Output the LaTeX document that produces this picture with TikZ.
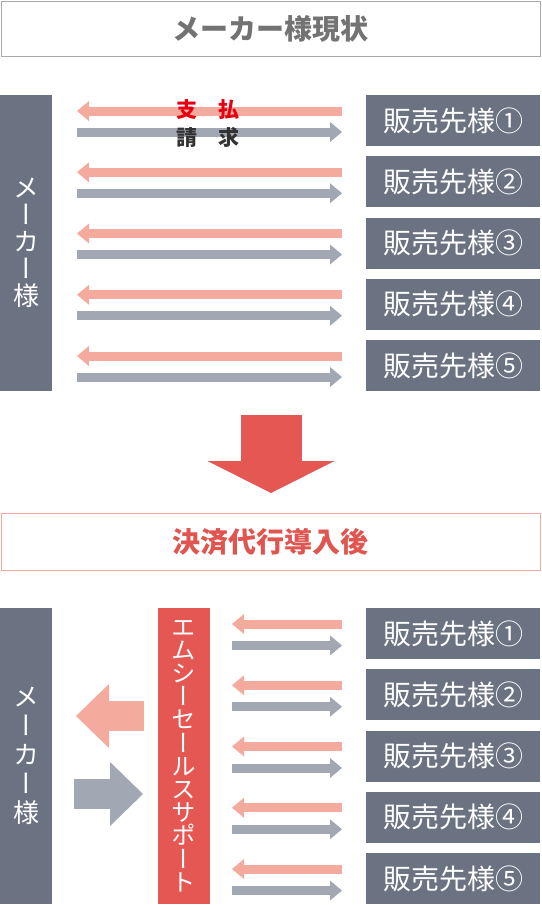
\documentclass[tikz,border=0pt]{standalone}
\usepackage{fontspec}
\setmainfont{Noto Sans CJK JP}
\newfontfamily\vertfont[RawFeature=+vert]{Noto Sans CJK JP}
\usetikzlibrary{arrows.meta,calc,positioning}
\newcommand\tightstack{\lineskiplimit -100pt\relax}
\definecolor{slate}{RGB}{107,114,129}
\definecolor{payarrow}{RGB}{244,170,156}
\definecolor{billarrow}{RGB}{161,167,179}
\definecolor{emsred}{RGB}{228,87,82}
\definecolor{titleline}{RGB}{170,170,170}
\definecolor{titletext}{RGB}{115,115,115}
\definecolor{afterline}{RGB}{244,168,160}
\definecolor{aftertext}{RGB}{224,85,80}
\definecolor{paytext}{RGB}{230,0,18}
\definecolor{billtext}{RGB}{51,51,51}
\tikzset{
    flow diagram/.style = {x=1pt, y=-1pt},
    title box/.style    = {draw, line width=1pt, inner sep=0pt, outer sep=0pt,
                           minimum width=539pt,
                           font=\fontsize{28}{28}\selectfont\bfseries},
    bar/.style          = {fill=slate, text=white, align=center,
                           inner sep=0pt, outer sep=0pt, minimum width=52pt},
    maker bar/.style    = {bar, minimum height=296pt},
    ems bar/.style      = {bar, fill=emsred, minimum height=296pt,
                           font={\vertfont\fontsize{24.5}{23.2}\selectfont\tightstack}},
    buyer/.style        = {fill=slate, text=white, inner sep=0pt, outer sep=0pt,
                           minimum width=174pt, minimum height=51pt,
                           font=\fontsize{28}{28}\selectfont},
    thin arrow/.style   = {line width=9pt,
                           -{Triangle[length=12pt, width=20pt, line width=0pt]}},
    pay arrow/.style    = {thin arrow, draw=payarrow},
    bill arrow/.style   = {thin arrow, draw=billarrow},
    fat arrow/.style    = {line width=30pt,
                           -{Triangle[length=33pt, width=64pt, line width=0pt]}},
    flow label/.style   = {inner sep=0pt, font=\fontsize{21}{21}\selectfont\bfseries}
}
\begin{document}
\begin{tikzpicture}[flow diagram]
\useasboundingbox (0,0) rectangle (541,905);

% Before: maker settles with every buyer on its own
\node[title box, draw=titleline, text=titletext, minimum height=55pt]
    (before) at (270.5,29) {メーカー様現状};
\node[maker bar, anchor=north west,
      font={\vertfont\fontsize{26}{27}\selectfont\tightstack}]
    (maker) at (0,95) {メ\\ー\\カ\\ー\\様};
\node[buyer, anchor=north west] (old1) at (366,95) {販売先様①};
\foreach \k/\j/\n in {1/2/②,2/3/③,3/4/④,4/5/⑤}
    \node[buyer, below=10.25pt of old\k] (old\j) {販売先様\n};

\foreach \i in {1,...,5}{
    \coordinate (payR\i)  at ($(old\i.west)+(-24,-9.5)$);
    \coordinate (billR\i) at ($(old\i.west)+(-24,11.5)$);
    \draw[pay arrow]  (payR\i) -- ($(payR\i -| maker.east)+(25,0)$);
    \draw[bill arrow] ($(billR\i -| maker.east)+(25,0)$) -- (billR\i);
}
\node[flow label, text=paytext]  (paylbl)  at (208,110) {支　払};
\node[flow label, text=billtext] (billlbl) at (208,137) {請　求};

% Change over
\coordinate (down top) at (271,415);
\coordinate (down tip) at (271,493);
\draw[draw=emsred, line width=61pt,
      -{Triangle[length=32pt, width=127pt, line width=0pt]}]
    (down top) -- (down tip);

% After: settlement agent in between
\node[title box, draw=afterline, text=aftertext, minimum height=57pt]
    (after) at (270.5,542) {決済代行導入後};
\node[maker bar, anchor=north west,
      font={\vertfont\fontsize{26}{29}\selectfont\tightstack}]
    (maker2) at (0,608) {メ\\ー\\カ\\ー\\様};
\node[ems bar, anchor=north west] (ems) at (158,608)
    {エ\\ム\\シ\\ー\\セ\\ー\\ル\\ス\\サ\\ポ\\ー\\ト};
\node[buyer, anchor=north west] (new1) at (366,608) {販売先様①};
\foreach \k/\j/\n in {1/2/②,2/3/③,3/4/④,4/5/⑤}
    \node[buyer, below=10.25pt of new\k] (new\j) {販売先様\n};

\foreach \i in {1,...,5}{
    \coordinate (payN\i)  at ($(new\i.west)+(-24,-9.5)$);
    \coordinate (billN\i) at ($(new\i.west)+(-24,12)$);
    \draw[pay arrow]  (payN\i) -- ($(payN\i -| ems.east)+(22,0)$);
    \draw[bill arrow] ($(billN\i -| ems.east)+(22,0)$) -- (billN\i);
}

% Bulk flows between agent and maker
\coordinate (fund tail) at ($(ems.west)+(-14,-40)$);
\coordinate (bill tail) at ($(maker2.east)+(22,38)$);
\draw[fat arrow, draw=payarrow]  (fund tail) -- ($(fund tail -| maker2.east)+(24,0)$);
\draw[fat arrow, draw=billarrow] (bill tail) -- ($(bill tail -| ems.west)+(-15,0)$);

\end{tikzpicture}
\end{document}
